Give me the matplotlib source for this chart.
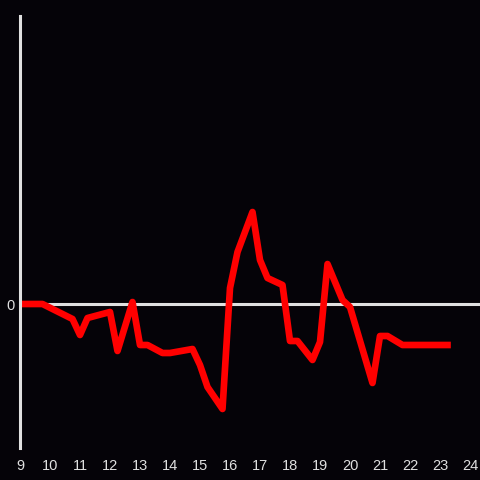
import matplotlib
matplotlib.use("Agg")
import matplotlib.pyplot as plt

# hour of day vs. value (relative to zero line)
hours = [9.0, 9.75, 10.75, 11.0, 11.25, 12.0, 12.25, 12.75, 13.0, 13.25,
         13.75, 14.0, 14.75, 15.0, 15.25, 15.75, 16.0, 16.25, 16.75, 17.0,
         17.25, 17.75, 18.0, 18.25, 18.75, 19.0, 19.25, 19.75, 20.0, 20.75,
         21.0, 21.25, 21.75, 23.25]
values = [0.0, 0.0, -1.5, -3.1, -1.4, -0.8, -4.7, 0.2, -4.1, -4.1,
          -4.9, -4.9, -4.5, -6.1, -8.3, -10.5, 1.6, 5.2, 9.2, 4.4,
          2.6, 1.9, -3.7, -3.7, -5.6, -3.8, 4.0, 0.4, -0.3, -7.9,
          -3.2, -3.2, -4.1, -4.1]
xticks = list(range(9, 25))

bg = "#050308"
fg = "#e0e0e0"

plt.rcParams["font.family"] = ["Liberation Sans", "DejaVu Sans"]

fig = plt.figure(figsize=(4.8, 4.8), dpi=100, facecolor=bg)
ax = fig.add_axes([20 / 480, 32 / 480, 460 / 480, 432 / 480], facecolor=bg)

ax.axhline(0, color=fg, lw=2.2, zorder=1)
ax.plot(hours, values, color="#ff0000", lw=4.8, zorder=2)

ax.set_xlim(9, 24 + 1 / 3)
ax.set_ylim(-14.4, 28.8)
ax.set_xticks(xticks)
ax.set_xticklabels([str(t) for t in xticks])
ax.set_yticks([0])
ax.set_yticklabels(["0"])
ax.tick_params(length=0, colors=fg, labelsize=10.5)
ax.tick_params(axis="x", pad=8)
ax.tick_params(axis="y", pad=4)

for side in ["top", "right", "bottom"]:
    ax.spines[side].set_visible(False)
ax.spines["left"].set_color(fg)
ax.spines["left"].set_linewidth(2.2)

fig.savefig("out.png", dpi=100, facecolor=bg)
